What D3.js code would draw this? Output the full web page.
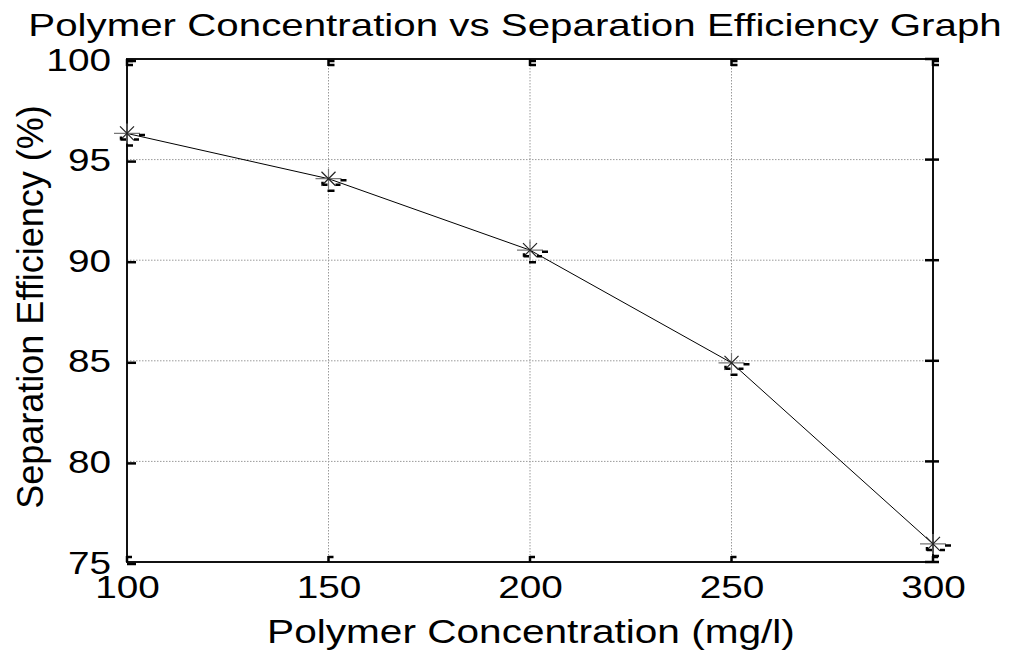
<!DOCTYPE html>
<html lang="en">
<head>
<meta charset="UTF-8">
<title>Polymer Concentration vs Separation Efficiency Graph</title>
<style>
  html, body { margin: 0; background: #fff; }
  text { font-family: 'Liberation Sans', Arial, sans-serif; fill: #000; }
  .grid line { stroke: #9a9a9a; stroke-width: 1; stroke-dasharray: 1.5,1.5; }
  .frame { fill: none; stroke: #111; stroke-width: 2; }
  .series { fill: none; stroke: #000; stroke-width: 1; }
  .cap { stroke: #000; stroke-width: 2.5; }
</style>
</head>
<body>
<svg id="chart" width="1010" height="657" viewBox="0 0 1010 657"></svg>
<script src="https://d3js.org/d3.v7.min.js"></script>
<script>
// data
const concentration = [100, 150, 200, 250, 300];
const efficiency = [96.3, 94.05, 90.5, 84.9, 75.9];
const xTicks = [100, 150, 200, 250, 300];
const yTicks = [75, 80, 85, 90, 95, 100];

const svg = d3.select("#chart");
const box = {left: 127, right: 933, top: 59, bottom: 562};
const tickStretch = 1.25; // the picture's text is wider than plain Arial

const x = d3.scaleLinear().domain([100, 300]).range([box.left, box.right]);
const y = d3.scaleLinear().domain([75, 100]).range([box.bottom, box.top]);

// grid
const grid = svg.append("g").attr("class", "grid");
grid.selectAll(".gx").data(xTicks.slice(1, -1)).enter().append("line")
    .attr("x1", d => x(d)).attr("x2", d => x(d))
    .attr("y1", box.top).attr("y2", box.bottom);
grid.selectAll(".gy").data(yTicks.slice(1, -1)).enter().append("line")
    .attr("y1", d => y(d)).attr("y2", d => y(d))
    .attr("x1", box.left).attr("x2", box.right);

// frame
svg.append("rect").attr("class", "frame")
    .attr("x", box.left).attr("y", box.top)
    .attr("width", box.right - box.left).attr("height", box.bottom - box.top);

// small chunky tick marks on all four sides
const ticks = svg.append("g").attr("class", "cap");
xTicks.forEach(function (v) {
  const px = x(v);
  ticks.append("line").attr("x1", px).attr("x2", px).attr("y1", box.top).attr("y2", box.top + 7);
  ticks.append("line").attr("x1", px).attr("x2", px + 6).attr("y1", box.top + 2).attr("y2", box.top + 2);
  ticks.append("line").attr("x1", px).attr("x2", px + 6).attr("y1", box.top + 6).attr("y2", box.top + 6);
  ticks.append("line").attr("x1", px).attr("x2", px).attr("y1", box.bottom - 6).attr("y2", box.bottom);
  ticks.append("line").attr("x1", px).attr("x2", px + 5).attr("y1", box.bottom - 5).attr("y2", box.bottom - 5);
});
yTicks.forEach(function (v) {
  const py = y(v);
  ticks.append("line").attr("x1", box.left).attr("x2", box.left + 9).attr("y1", py + 2).attr("y2", py + 2);
  ticks.append("line").attr("x1", box.right - 8).attr("x2", box.right + 6).attr("y1", py).attr("y2", py);
});

// axes labels via d3 axes
const xAxis = svg.append("g")
    .attr("transform", "translate(0," + box.bottom + ")")
    .call(d3.axisBottom(x).tickValues(xTicks).tickSize(0).tickPadding(14));
const yAxis = svg.append("g")
    .attr("transform", "translate(" + box.left + ",0)")
    .call(d3.axisLeft(y).tickValues(yTicks).tickSize(0).tickPadding(16));
[xAxis, yAxis].forEach(function (a) {
  a.select(".domain").remove();
  a.selectAll("text").attr("font-family", "'Liberation Sans', Arial, sans-serif")
      .attr("font-size", 31).attr("fill", "#000");
});
xAxis.selectAll("text").attr("dy", "0.71em").attr("transform", "scale(" + tickStretch + ",1)");
yAxis.selectAll("text").attr("x", -16 / tickStretch).attr("dy", "0.36em")
    .attr("transform", "scale(" + tickStretch + ",1)");

// series line
const line = d3.line().x((d, i) => x(concentration[i])).y(d => y(d));
svg.append("path").datum(efficiency).attr("class", "series").attr("d", line);

// asterisk markers with the odd little caps beside them
const pts = svg.append("g").selectAll("g").data(efficiency).enter().append("g")
    .attr("transform", (d, i) => "translate(" + x(concentration[i]) + "," + y(d) + ")");
pts.append("path").attr("d", "M-13,0H13M0,-10V10")
    .attr("stroke", "#777").attr("stroke-width", 1.2).attr("fill", "none");
pts.append("path").attr("d", "M-7,-7L7,7M-7,7L7,-7")
    .attr("stroke", "#222").attr("stroke-width", 1.2).attr("fill", "none");
pts.append("path").attr("class", "cap").attr("fill", "none")
    .attr("d", "M12,1.5H18M-6,6H-1M-6,3V6M7,6H12M-1,12H6");

// titles
svg.append("text")
    .attr("transform", "translate(515,36) scale(1.26,1)")
    .attr("text-anchor", "middle").attr("font-size", 32)
    .text("Polymer Concentration vs Separation Efficiency Graph");
svg.append("text")
    .attr("transform", "translate(531,643) scale(1.23,1)")
    .attr("text-anchor", "middle").attr("font-size", 33)
    .text("Polymer Concentration (mg/l)");
svg.append("text")
    .attr("transform", "translate(43,307) scale(1.05,1) rotate(-90)")
    .attr("text-anchor", "middle").attr("font-size", 36)
    .text("Separation Efficiency (%)");
</script>
</body>
</html>
